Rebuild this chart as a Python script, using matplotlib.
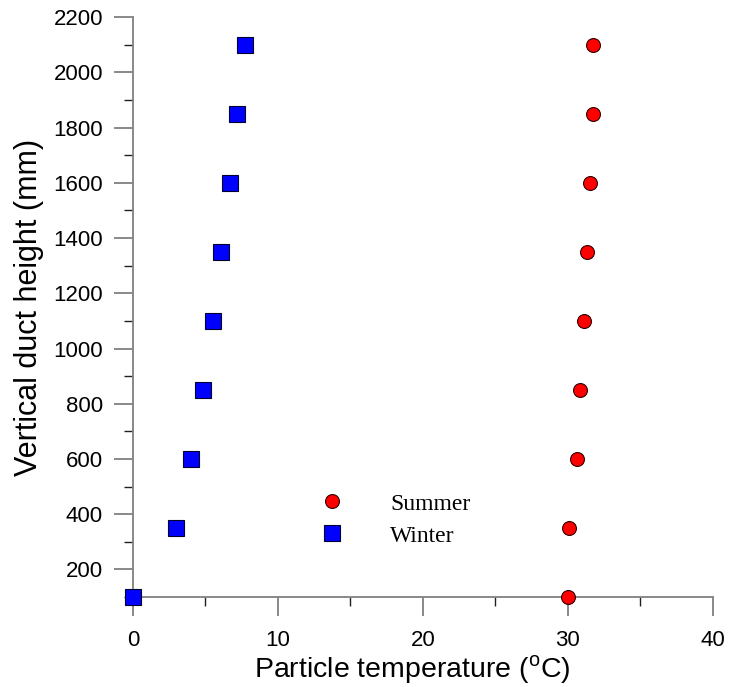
import numpy as np
import matplotlib.pyplot as plt
from matplotlib.ticker import MultipleLocator

# heights (mm)
height = [100, 350, 600, 850, 1100, 1350, 1600, 1850, 2100]
# particle temperatures (degC)
summer = [30.0, 30.1, 30.6, 30.8, 31.1, 31.3, 31.5, 31.7, 31.7]
winter = [0.0, 3.0, 4.0, 4.8, 5.5, 6.1, 6.7, 7.2, 7.7]

plt.rcParams['font.family'] = ['Liberation Sans', 'DejaVu Sans']

fig = plt.figure(figsize=(7.29, 6.87), dpi=100)
ax = fig.add_axes([0.1824, 0.131, 0.7956, 0.844])

ax.plot(summer, height, 'o', ms=10, mfc='red', mec='#300000', mew=0.8,
        label='Summer', clip_on=False, zorder=3)
ax.plot(winter, height, 's', ms=11, mfc='blue', mec='#000030', mew=0.8,
        label='Winter', clip_on=False, zorder=3)

ax.set_xlim(0, 40)
ax.set_ylim(100, 2200)
ax.xaxis.set_major_locator(MultipleLocator(10))
ax.xaxis.set_minor_locator(MultipleLocator(5))
ax.yaxis.set_major_locator(MultipleLocator(200))
ax.yaxis.set_minor_locator(MultipleLocator(100))
ax.set_yticks(np.arange(200, 2201, 200))

for s in ['top', 'right']:
    ax.spines[s].set_visible(False)
for s in ['left', 'bottom']:
    ax.spines[s].set_color('#808080')
    ax.spines[s].set_linewidth(1.3)

ax.tick_params(which='major', direction='out', length=13.5, width=1.3,
               color='#808080', labelsize=16, pad=8)
ax.tick_params(which='minor', direction='out', length=6.5, width=1.0,
               color='#202020')
ax.tick_params(axis='x', which='major', pad=10)

ax.set_xlabel(r'Particle temperature ($^\mathregular{o}$C)', fontsize=20.5)
ax.set_ylabel('Vertical duct height (mm)', fontsize=22)
ax.xaxis.set_label_coords(0.481, -0.097)
ax.yaxis.set_label_coords(-0.153, 0.5)

leg = ax.legend(loc='upper left', bbox_to_anchor=(0.287, 0.216), frameon=False,
                prop={'family': 'Liberation Serif', 'size': 17},
                handletextpad=1.95, labelspacing=0.45, handlelength=1.0)

fig.savefig('out.png', dpi=100)
